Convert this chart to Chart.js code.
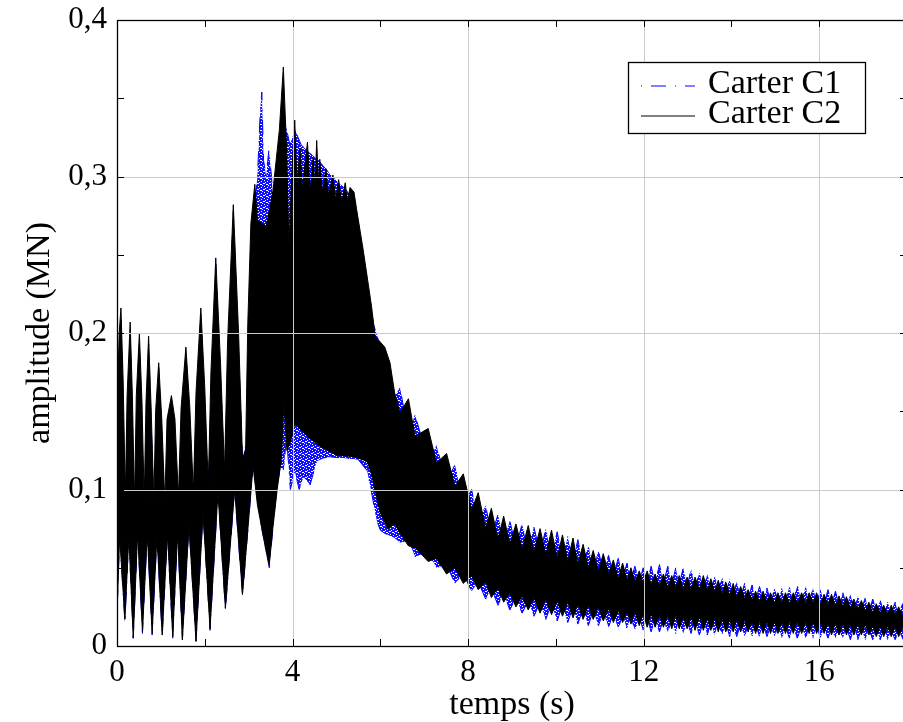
<!DOCTYPE html>
<html>
<head>
<meta charset="utf-8">
<script src="https://cdn.jsdelivr.net/npm/chart.js@4.4.0/dist/chart.umd.min.js"></script>
<style>
  html, body { margin: 0; padding: 0; overflow: hidden; background: #fff; }
  #wrap { width: 903px; height: 722px; overflow: hidden; }
</style>
</head>
<body>
<div id="wrap"><canvas id="chart" width="910" height="722"></canvas></div>
<script>
// envelope vertices (time in s, amplitude in MN)
// Carter C2 (black), 0 - 6.33 s
const tTopC2 = [0.00, 0.05, 0.09, 0.14, 0.19, 0.23, 0.30, 0.35, 0.40, 0.44, 0.51, 0.57, 0.62, 0.66, 0.72, 0.78, 0.84, 0.88, 0.95, 1.02, 1.09, 1.14, 1.24, 1.32, 1.40, 1.46, 1.57, 1.66, 1.74, 1.80, 1.91, 2.00, 2.08, 2.14, 2.25, 2.36, 2.45, 2.52, 2.65, 2.77, 2.86, 2.93, 2.98, 3.05, 3.14, 3.20, 3.40, 3.55, 3.70, 3.79, 3.86, 3.92, 3.98, 4.05, 4.10, 4.17, 4.22, 4.34, 4.40, 4.47, 4.51, 4.55, 4.59, 4.62, 4.68, 4.76, 4.82, 4.92, 4.98, 5.05, 5.12, 5.20, 5.25, 5.31, 5.40, 5.46, 5.61, 5.80, 5.88, 6.10, 6.22, 6.33];
const topC2 = [0.150, 0.200, 0.216, 0.170, 0.095, 0.160, 0.207, 0.160, 0.092, 0.160, 0.200, 0.155, 0.092, 0.155, 0.198, 0.150, 0.092, 0.150, 0.181, 0.145, 0.092, 0.145, 0.160, 0.145, 0.095, 0.152, 0.191, 0.152, 0.098, 0.162, 0.216, 0.165, 0.102, 0.175, 0.248, 0.180, 0.112, 0.195, 0.282, 0.200, 0.120, 0.125, 0.206, 0.270, 0.295, 0.272, 0.268, 0.290, 0.330, 0.370, 0.320, 0.255, 0.300, 0.336, 0.295, 0.318, 0.292, 0.322, 0.290, 0.312, 0.292, 0.323, 0.295, 0.311, 0.290, 0.305, 0.288, 0.301, 0.285, 0.298, 0.283, 0.296, 0.284, 0.293, 0.290, 0.279, 0.253, 0.217, 0.198, 0.191, 0.181, 0.161];
const tBotC2 = [0.00, 0.06, 0.18, 0.27, 0.37, 0.47, 0.58, 0.69, 0.80, 0.91, 1.03, 1.15, 1.27, 1.38, 1.49, 1.64, 1.80, 1.96, 2.12, 2.30, 2.47, 2.68, 2.86, 3.10, 3.20, 3.30, 3.40, 3.47, 3.55, 3.65, 3.75, 3.80, 3.87, 3.95, 4.05, 4.30, 4.60, 5.00, 5.40, 5.70, 5.80, 5.90, 6.00, 6.17, 6.33];
const botC2 = [0.020, 0.070, 0.017, 0.070, 0.005, 0.072, 0.009, 0.072, 0.008, 0.070, 0.007, 0.072, 0.006, 0.072, 0.004, 0.077, 0.003, 0.085, 0.011, 0.098, 0.024, 0.100, 0.033, 0.115, 0.090, 0.075, 0.060, 0.052, 0.075, 0.100, 0.121, 0.157, 0.125, 0.130, 0.142, 0.135, 0.128, 0.122, 0.121, 0.118, 0.110, 0.097, 0.085, 0.075, 0.078];

// Carter C1 (blue), 0 - 6.33 s
const tTopC1 = [0.00, 0.09, 0.19, 0.30, 0.40, 0.51, 0.62, 0.72, 0.84, 0.95, 1.09, 1.24, 1.40, 1.57, 1.74, 1.91, 2.08, 2.25, 2.45, 2.65, 2.86, 2.95, 3.00, 3.10, 3.20, 3.27, 3.30, 3.34, 3.40, 3.46, 3.52, 3.58, 3.70, 3.79, 3.94, 4.05, 4.20, 4.40, 4.60, 4.90, 5.20, 5.40, 5.50, 5.65, 5.85, 6.05, 6.20, 6.33];
const topC1 = [0.140, 0.210, 0.090, 0.200, 0.088, 0.195, 0.088, 0.193, 0.090, 0.178, 0.090, 0.157, 0.092, 0.188, 0.095, 0.212, 0.100, 0.244, 0.110, 0.278, 0.120, 0.130, 0.210, 0.270, 0.300, 0.345, 0.354, 0.310, 0.300, 0.317, 0.300, 0.275, 0.320, 0.340, 0.320, 0.330, 0.320, 0.315, 0.310, 0.300, 0.292, 0.285, 0.270, 0.240, 0.205, 0.188, 0.178, 0.160];
const tBotC1 = [0.00, 0.06, 0.18, 0.27, 0.37, 0.47, 0.58, 0.69, 0.80, 0.91, 1.03, 1.15, 1.27, 1.38, 1.49, 1.64, 1.80, 1.96, 2.12, 2.30, 2.47, 2.68, 2.86, 3.10, 3.30, 3.47, 3.60, 3.72, 3.80, 3.86, 3.95, 4.05, 4.15, 4.25, 4.40, 4.55, 4.80, 5.20, 5.50, 5.70, 5.80, 5.92, 6.00, 6.10, 6.25, 6.33];
const botC1 = [0.020, 0.070, 0.015, 0.070, 0.005, 0.072, 0.008, 0.072, 0.007, 0.070, 0.006, 0.072, 0.005, 0.072, 0.004, 0.077, 0.003, 0.085, 0.010, 0.098, 0.023, 0.100, 0.032, 0.115, 0.075, 0.050, 0.090, 0.115, 0.112, 0.135, 0.100, 0.112, 0.100, 0.108, 0.103, 0.118, 0.121, 0.120, 0.119, 0.112, 0.098, 0.080, 0.074, 0.072, 0.070, 0.069];

// ripple region 6.45 - 18 s: times of the valleys and of the teeth of the C2 band
const tValley = [6.45, 6.79, 7.28, 7.70, 8.08, 8.40, 8.68, 8.95, 9.23, 9.50, 9.77, 10.03, 10.27, 10.50, 10.74, 10.97, 11.20, 11.42, 11.62, 11.80, 11.99, 12.17, 12.36, 12.55, 12.73, 12.90, 13.08, 13.27, 13.45, 13.62, 13.79, 13.96, 14.12, 14.30, 14.47, 14.64, 14.81, 14.98, 15.15, 15.32, 15.50, 15.69, 15.86, 16.03, 16.20, 16.37, 16.54, 16.71, 16.88, 17.05, 17.22, 17.39, 17.56, 17.73, 17.90];
const tTooth = [6.64, 7.09, 7.51, 7.89, 8.23, 8.53, 8.81, 9.09, 9.37, 9.64, 9.90, 10.15, 10.39, 10.62, 10.85, 11.08, 11.31, 11.52, 11.71, 11.90, 12.08, 12.26, 12.45, 12.64, 12.81, 12.99, 13.17, 13.36, 13.53, 13.70, 13.87, 14.04, 14.21, 14.38, 14.55, 14.72, 14.89, 15.06, 15.23, 15.41, 15.60, 15.77, 15.94, 16.11, 16.28, 16.45, 16.62, 16.79, 16.96, 17.13, 17.30, 17.47, 17.64, 17.81, 17.98];

const c2ValleyTop = [0.149, 0.134, 0.117, 0.102, 0.087, 0.075, 0.068, 0.065, 0.062, 0.060, 0.058, 0.056, 0.054, 0.052, 0.050, 0.048, 0.046, 0.043, 0.042, 0.041, 0.040, 0.039, 0.038, 0.037, 0.037, 0.036, 0.036, 0.036, 0.035, 0.034, 0.033, 0.032, 0.031, 0.030, 0.029, 0.028, 0.028, 0.027, 0.027, 0.027, 0.027, 0.027, 0.027, 0.026, 0.026, 0.025, 0.025, 0.024, 0.023, 0.022, 0.021, 0.021, 0.020, 0.020, 0.019];
const c2ToothTop = [0.158, 0.139, 0.123, 0.110, 0.098, 0.088, 0.083, 0.078, 0.077, 0.075, 0.074, 0.071, 0.069, 0.065, 0.061, 0.059, 0.055, 0.053, 0.050, 0.048, 0.048, 0.046, 0.046, 0.045, 0.045, 0.044, 0.044, 0.045, 0.043, 0.042, 0.041, 0.040, 0.038, 0.036, 0.035, 0.035, 0.034, 0.034, 0.034, 0.034, 0.034, 0.034, 0.034, 0.033, 0.033, 0.032, 0.0315, 0.030, 0.029, 0.028, 0.027, 0.026, 0.026, 0.025, 0.024];
const c2ToothBot = [0.064, 0.054, 0.046, 0.040, 0.036, 0.031, 0.028, 0.025, 0.023, 0.021, 0.020, 0.019, 0.018, 0.017, 0.017, 0.016, 0.015, 0.015, 0.014, 0.013, 0.012, 0.012, 0.012, 0.011, 0.011, 0.011, 0.010, 0.010, 0.010, 0.009, 0.009, 0.009, 0.009, 0.009, 0.008, 0.008, 0.008, 0.008, 0.008, 0.008, 0.008, 0.008, 0.008, 0.008, 0.007, 0.007, 0.007, 0.007, 0.007, 0.007, 0.006, 0.006, 0.006, 0.006, 0.006];
const c2ValleyBot = [0.072, 0.063, 0.056, 0.050, 0.045, 0.041, 0.037, 0.034, 0.032, 0.031, 0.030, 0.029, 0.028, 0.027, 0.026, 0.025, 0.024, 0.023, 0.022, 0.022, 0.021, 0.021, 0.020, 0.020, 0.020, 0.019, 0.019, 0.019, 0.018, 0.018, 0.018, 0.017, 0.017, 0.017, 0.016, 0.016, 0.016, 0.016, 0.016, 0.016, 0.016, 0.016, 0.016, 0.015, 0.015, 0.015, 0.015, 0.014, 0.014, 0.014, 0.013, 0.013, 0.013, 0.013, 0.012];

const c1ValleyTop = [0.165, 0.148, 0.128, 0.116, 0.100, 0.090, 0.084, 0.080, 0.078, 0.076, 0.075, 0.073, 0.070, 0.068, 0.064, 0.061, 0.058, 0.056, 0.053, 0.051, 0.050, 0.051, 0.052, 0.051, 0.050, 0.050, 0.049, 0.047, 0.046, 0.045, 0.044, 0.043, 0.041, 0.040, 0.039, 0.038, 0.037, 0.037, 0.037, 0.038, 0.039, 0.038, 0.037, 0.036, 0.036, 0.035, 0.034, 0.033, 0.032, 0.031, 0.030, 0.029, 0.028, 0.028, 0.027];
const c1ToothTop = [0.135, 0.118, 0.104, 0.090, 0.078, 0.070, 0.066, 0.063, 0.061, 0.059, 0.057, 0.055, 0.053, 0.051, 0.049, 0.047, 0.045, 0.043, 0.042, 0.041, 0.040, 0.040, 0.040, 0.039, 0.039, 0.038, 0.037, 0.036, 0.035, 0.034, 0.033, 0.032, 0.031, 0.030, 0.029, 0.029, 0.028, 0.028, 0.028, 0.028, 0.028, 0.028, 0.027, 0.027, 0.026, 0.026, 0.025, 0.024, 0.023, 0.022, 0.022, 0.021, 0.021, 0.020, 0.020];
const c1ValleyBot = [0.066, 0.057, 0.050, 0.040, 0.035, 0.030, 0.026, 0.023, 0.021, 0.019, 0.017, 0.016, 0.015, 0.014, 0.013, 0.013, 0.012, 0.011, 0.011, 0.010, 0.010, 0.009, 0.009, 0.009, 0.008, 0.008, 0.008, 0.007, 0.007, 0.007, 0.007, 0.006, 0.006, 0.006, 0.006, 0.006, 0.006, 0.006, 0.005, 0.005, 0.005, 0.005, 0.005, 0.005, 0.005, 0.005, 0.005, 0.004, 0.004, 0.004, 0.004, 0.004, 0.004, 0.004, 0.004];
const c1ToothBot = [0.068, 0.060, 0.052, 0.046, 0.041, 0.037, 0.034, 0.031, 0.029, 0.028, 0.027, 0.026, 0.025, 0.024, 0.023, 0.022, 0.021, 0.020, 0.019, 0.019, 0.018, 0.018, 0.017, 0.017, 0.017, 0.016, 0.016, 0.016, 0.015, 0.015, 0.015, 0.014, 0.014, 0.014, 0.014, 0.014, 0.013, 0.013, 0.013, 0.013, 0.013, 0.013, 0.013, 0.012, 0.012, 0.012, 0.012, 0.012, 0.011, 0.011, 0.011, 0.011, 0.010, 0.010, 0.010];

const SERIF = '"Liberation Serif", "Times New Roman", serif';

function pts(ts, vs) {
  return ts.map((t, i) => ({ x: t, y: vs[i] }));
}
function envelope(tEarly, vEarly, vAtValley, vAtTooth) {
  const ripple = pts(tValley, vAtValley).concat(pts(tTooth, vAtTooth)).sort((a, b) => a.x - b.x);
  return pts(tEarly, vEarly).concat(ripple);
}

// dash-dot trace looks speckled when it is packed this tight
function speckle(color) {
  const c = document.createElement('canvas');
  c.width = 6; c.height = 6;
  const g = c.getContext('2d');
  g.fillStyle = color;
  g.fillRect(0, 0, 6, 6);
  [[0, 0], [3, 1], [1, 2], [5, 3], [2, 4], [4, 5], [0, 3], [3, 4]].forEach(([x, y]) => g.clearRect(x, y, 1, 1));
  return g.createPattern(c, 'repeat');
}

const c2Top = envelope(tTopC2, topC2, c2ValleyTop, c2ToothTop);
const c2Bot = envelope(tBotC2, botC2, c2ValleyBot, c2ToothBot);
const c1Top = envelope(tTopC1, topC1, c1ValleyTop, c1ToothTop);
const c1Bot = envelope(tBotC1, botC1, c1ValleyBot, c1ToothBot);

// grid on top of the data, box frame and inward ticks
const frame = {
  id: 'frame',
  afterDatasetsDraw(chart) {
    const { ctx, chartArea: a, scales: { x, y } } = chart;
    ctx.save();
    ctx.strokeStyle = '#cbcbcb';
    ctx.lineWidth = 1;
    x.ticks.forEach(t => {
      if (t.value % 4 === 0 && t.value > 0) {
        const px = Math.round(x.getPixelForValue(t.value)) + 0.5;
        ctx.beginPath(); ctx.moveTo(px, a.top); ctx.lineTo(px, a.bottom); ctx.stroke();
      }
    });
    y.ticks.forEach(t => {
      const r = Math.round(t.value * 100);
      if (r % 10 === 0 && r > 0 && r < 40) {
        const py = Math.round(y.getPixelForValue(t.value)) + 0.5;
        ctx.beginPath(); ctx.moveTo(a.left, py); ctx.lineTo(a.right, py); ctx.stroke();
      }
    });

    ctx.strokeStyle = '#000';
    ctx.lineWidth = 1;
    const tl = 7;
    x.ticks.forEach(t => {
      const px = Math.round(x.getPixelForValue(t.value)) + 0.5;
      ctx.beginPath();
      ctx.moveTo(px, a.bottom); ctx.lineTo(px, a.bottom - tl);
      ctx.moveTo(px, a.top); ctx.lineTo(px, a.top + tl);
      ctx.stroke();
    });
    y.ticks.forEach(t => {
      const py = Math.round(y.getPixelForValue(t.value)) + 0.5;
      ctx.beginPath();
      ctx.moveTo(a.left, py); ctx.lineTo(a.left + tl, py);
      ctx.moveTo(a.right, py); ctx.lineTo(a.right - tl, py);
      ctx.stroke();
    });

    ctx.lineWidth = 1.3;
    ctx.strokeRect(Math.round(a.left) + 0.5, Math.round(a.top) + 0.5, Math.round(a.right - a.left), Math.round(a.bottom - a.top));
    ctx.restore();
  }
};

const legendBox = {
  id: 'legendBox',
  afterDraw(chart) {
    const { ctx, chartArea: a } = chart;
    const items = chart.data.datasets.filter(d => d.label).sort((p, q) => p.label.localeCompare(q.label));
    const w = 237, h = 71;
    const left = Math.round(a.right - 42 - w), top = Math.round(a.top + 42);
    ctx.save();
    ctx.fillStyle = '#fff';
    ctx.fillRect(left, top, w, h);
    ctx.strokeStyle = '#000';
    ctx.lineWidth = 1.3;
    ctx.strokeRect(left + 0.5, top + 0.5, w, h);
    ctx.font = '34px ' + SERIF;
    ctx.textBaseline = 'alphabetic';
    items.forEach((d, i) => {
      const ly = top + 24 + i * 30;
      ctx.strokeStyle = d.borderColor;
      ctx.lineWidth = 1;
      ctx.setLineDash(d.borderDash || []);
      ctx.beginPath(); ctx.moveTo(left + 13, ly); ctx.lineTo(left + 67, ly); ctx.stroke();
      ctx.setLineDash([]);
      ctx.fillStyle = '#000';
      ctx.fillText(d.label, left + 80, top + 31 + i * 30);
    });
    ctx.restore();
  }
};

new Chart(document.getElementById('chart'), {
  type: 'line',
  data: {
    datasets: [
      { label: 'Carter C2', data: c2Top, borderColor: '#000000', borderWidth: 1, pointRadius: 0, fill: false, order: 0 },
      { label: '', data: c2Bot, borderColor: '#000000', borderWidth: 1, pointRadius: 0, fill: '-1', backgroundColor: '#000000', order: 1 },
      { label: 'Carter C1', data: c1Top, borderColor: '#0000ff', borderDash: [1, 9, 15, 9], borderWidth: 1, pointRadius: 0, fill: false, order: 2 },
      { label: '', data: c1Bot, borderColor: '#0000ff', borderDash: [1, 9, 15, 9], borderWidth: 1, pointRadius: 0, fill: '-1', backgroundColor: speckle('#1010ff'), order: 3 }
    ]
  },
  options: {
    responsive: false,
    animation: false,
    devicePixelRatio: 1,
    events: [],
    layout: { padding: { top: 20, right: 3, left: 0, bottom: 0 } },
    plugins: {
      legend: { display: false },
      tooltip: { enabled: false }
    },
    scales: {
      x: {
        type: 'linear',
        min: 0,
        max: 18,
        grid: { display: false, drawTicks: false },
        border: { display: false },
        ticks: {
          stepSize: 2,
          autoSkip: false,
          maxRotation: 0,
          padding: 8,
          color: '#000',
          font: { family: SERIF, size: 31 },
          callback: v => (v % 4 === 0 ? String(v) : '')
        },
        title: {
          display: true,
          text: 'temps (s)',
          color: '#000',
          font: { family: SERIF, size: 34, lineHeight: 1 },
          padding: { top: 0, bottom: 0 }
        },
        afterFit: s => { s.height = 76; s.paddingLeft = 0; s.paddingRight = 0; }
      },
      y: {
        min: 0,
        max: 0.4,
        grid: { display: false, drawTicks: false },
        border: { display: false },
        ticks: {
          stepSize: 0.05,
          autoSkip: false,
          padding: 10,
          color: '#000',
          font: { family: SERIF, size: 31 },
          callback: v => {
            const r = Math.round(v * 100);
            if (r % 10 !== 0) return '';
            return r === 0 ? '0' : (r / 100).toFixed(1).replace('.', ',');
          }
        },
        title: {
          display: true,
          text: 'amplitude (MN)',
          color: '#000',
          font: { family: SERIF, size: 34, lineHeight: 1 },
          padding: { top: 23, bottom: 0 }
        },
        afterFit: s => { s.width = 117; s.paddingTop = 0; s.paddingBottom = 0; }
      }
    }
  },
  plugins: [frame, legendBox]
});
</script>
</body>
</html>
